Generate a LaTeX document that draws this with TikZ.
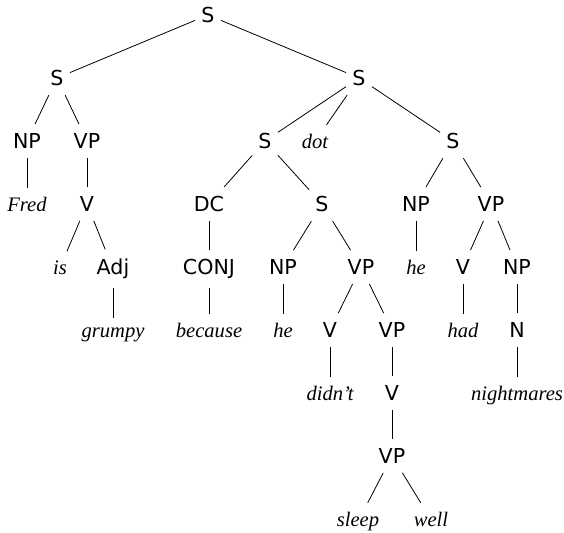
\documentclass[tikz,border=0pt]{standalone}
\usepackage{fontspec}
\newfontfamily\catfont{DejaVu Sans}
\newfontfamily\wordfont{Liberation Serif}
\tikzset{
  cat/.style={font=\catfont\fontsize{10.3}{12}\selectfont, anchor=base, inner xsep=3pt, inner ysep=4.5pt},
  word/.style={font=\wordfont\itshape\fontsize{10.3}{12}\selectfont, anchor=base, inner xsep=3pt, inner ysep=4.5pt},
}
\begin{document}
\begin{tikzpicture}[x=0.5pt, y=-0.5pt, line width=0.4pt]
\useasboundingbox (0,0) rectangle (564,533);
% levels of the tree, one every 63 units
\node[cat] (s0) at (208,22.5) {S};
\node[cat] (sl) at (57,85.5) {S};
\node[cat] (sr) at (359,85.5) {S};
\node[cat] (np1) at (27,148.5) {NP};
\node[cat] (vp1) at (87,148.5) {VP};
\node[cat] (sm) at (265,148.5) {S};
\node[word] (dot) at (315,148.5) {dot};
\node[cat] (srr) at (453,148.5) {S};
\node[word] (fred) at (27,211.5) {Fred};
\node[cat] (v1) at (87,211.5) {V};
\node[cat] (dc) at (209,211.5) {DC};
\node[cat] (s3) at (322,211.5) {S};
\node[cat] (np2) at (416,211.5) {NP};
\node[cat] (vp2) at (491,211.5) {VP};
\node[word] (is) at (60,274.5) {is};
\node[cat] (adj) at (113,274.5) {Adj};
\node[cat] (conj) at (209,274.5) {CONJ};
\node[cat] (np3) at (283,274.5) {NP};
\node[cat] (vp3) at (361,274.5) {VP};
\node[word] (he2) at (416,274.5) {he};
\node[cat] (v2) at (463,274.5) {V};
\node[cat] (np4) at (517,274.5) {NP};
\node[word] (grumpy) at (113,337.5) {grumpy};
\node[word] (because) at (209,337.5) {because};
\node[word] (he1) at (283,337.5) {he};
\node[cat] (v3) at (330,337.5) {V};
\node[cat] (vp4) at (392,337.5) {VP};
\node[word] (had) at (463,337.5) {had};
\node[cat] (n) at (517,337.5) {N};
\node[word] (didnt) at (330,400.5) {didn’t};
\node[cat] (v4) at (392,400.5) {V};
\node[word] (nightmares) at (517,400.5) {nightmares};
\node[cat] (vp5) at (392,463.5) {VP};
\node[word] (sleep) at (358,526.5) {sleep};
\node[word] (well) at (431,526.5) {well};
% branches
\foreach \a/\b in {s0/sl, s0/sr, sl/np1, sl/vp1, np1/fred, vp1/v1, v1/is, v1/adj, adj/grumpy,
  sr/sm, sr/dot, sr/srr, sm/dc, sm/s3, dc/conj, conj/because, s3/np3, s3/vp3, np3/he1,
  vp3/v3, vp3/vp4, v3/didnt, vp4/v4, v4/vp5, vp5/sleep, vp5/well,
  srr/np2, srr/vp2, np2/he2, vp2/v2, vp2/np4, v2/had, np4/n, n/nightmares}
  \draw (\a) -- (\b);
\end{tikzpicture}
\end{document}
